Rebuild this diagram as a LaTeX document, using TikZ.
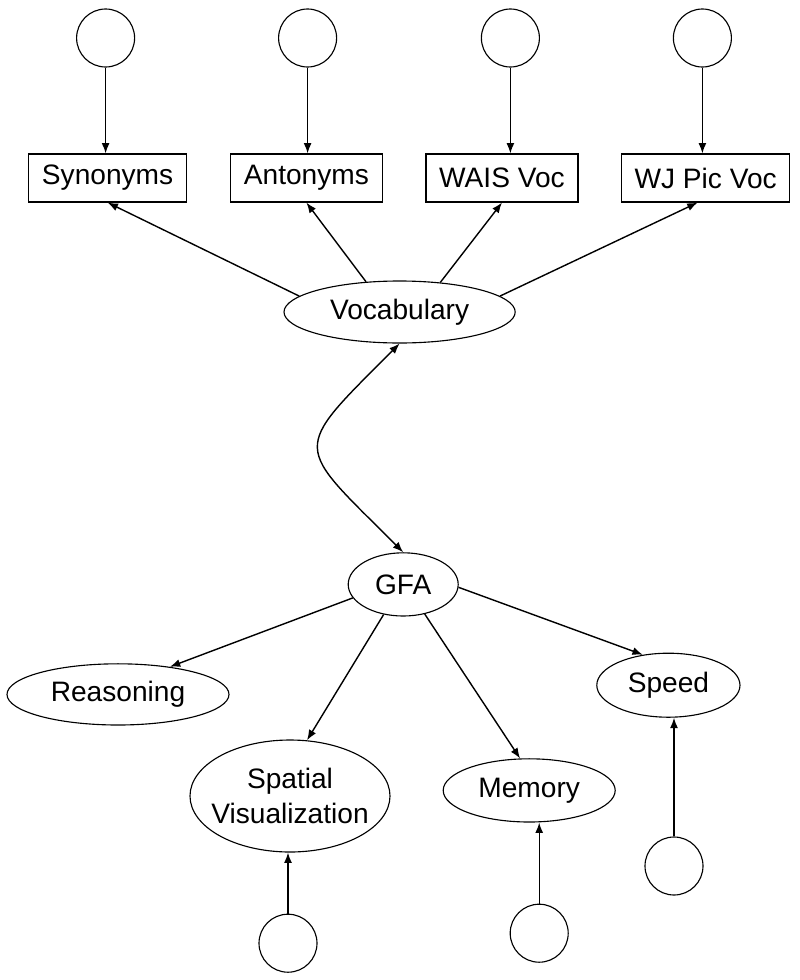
\documentclass[tikz,border=0pt]{standalone}
\usepackage{fontspec}
\setmainfont{Liberation Sans}
\usetikzlibrary{arrows.meta,shapes.geometric}
\begin{document}
\begin{tikzpicture}[font=\fontsize{20}{25}\selectfont,
  obs/.style={draw,line width=0.8pt,rectangle,inner xsep=0.33cm,minimum height=1.2cm},
  lat/.style={draw,line width=0.8pt,ellipse,inner sep=0pt},
  err/.style={draw,line width=0.8pt,circle,inner sep=0pt,minimum size=1.45cm},
  arr/.style={line width=1pt,-{Latex[length=2.6mm,width=2mm]}}]
\useasboundingbox (0,0) rectangle (20,-24.5);
\node[err] (c1) at (2.64,-0.95) {};
\node[err] (c2) at (7.69,-0.95) {};
\node[err] (c3) at (12.76,-0.95) {};
\node[err] (c4) at (17.56,-0.95) {};
\node[obs] (syn) at (2.69,-4.45) {Synonyms};
\node[obs] (ant) at (7.66,-4.45) {Antonyms};
\node[obs] (wais) at (12.55,-4.45) {WAIS Voc};
\node[obs] (wj) at (17.64,-4.45) {WJ Pic Voc};
\node[lat,minimum width=5.78cm,minimum height=1.55cm] (voc) at (9.99,-7.8) {Vocabulary};
\node[lat,minimum width=2.75cm,minimum height=1.58cm] (gfa) at (10.08,-14.61) {GFA};
\node[lat,minimum width=5.55cm,minimum height=1.53cm] (rea) at (2.95,-17.36) {Reasoning};
\node[lat,minimum width=5cm,minimum height=2.8cm,inner xsep=-10pt,align=center] (spa) at (7.25,-19.9) {Spatial\\Visualization};
\node[lat,minimum width=4.3cm,minimum height=1.58cm] (mem) at (13.23,-19.76) {Memory};
\node[lat,minimum width=3.58cm,minimum height=1.6cm] (spe) at (16.71,-17.13) {Speed};
\node[err] (e1) at (7.2,-23.58) {};
\node[err] (e2) at (13.48,-23.33) {};
\node[err] (e3) at (16.85,-21.65) {};
% residuals
\draw[arr] (c1) -- (c1 |- syn.north);
\draw[arr] (c2) -- (c2 |- ant.north);
\draw[arr] (c3) -- (c3 |- wais.north);
\draw[arr] (c4) -- (c4 |- wj.north);
\draw[arr] (e1) -- (e1 |- spa.south);
\draw[arr] (e2) -- (e2 |- mem.south);
\draw[arr] (e3) -- (e3 |- spe.south);
% loadings
\draw[arr] (voc.171) -- (syn.south);
\draw[arr] (voc.138) -- (ant.south);
\draw[arr] (voc.36) -- (wais.south);
\draw[arr] (voc.9) -- ([xshift=-0.2cm]wj.south);
\draw[arr] (gfa.195) -- (rea.28);
\draw[arr] (gfa.237) -- (spa.73);
\draw[arr] (gfa.306) -- (mem.106);
\draw[arr] (gfa.357) -- (spe.130);
% correlation
\draw[line width=1pt,{Latex[length=2.6mm,width=2mm]}-{Latex[length=2.6mm,width=2mm]}]
  (voc.south) to[out=225,in=135,looseness=1.9] (gfa.north);
\end{tikzpicture}
\end{document}
